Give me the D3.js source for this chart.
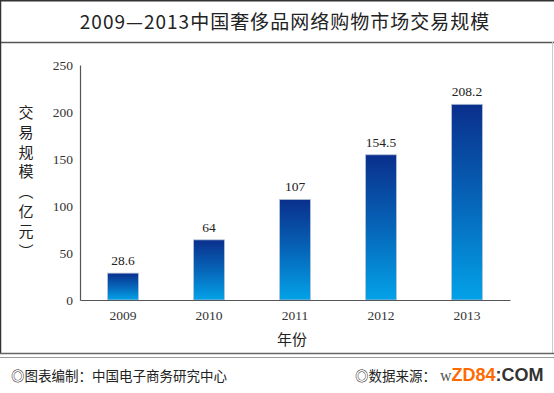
<!DOCTYPE html>
<html>
<head>
<meta charset="utf-8">
<script src="https://cdn.jsdelivr.net/npm/d3@7"></script>
<style>
body{margin:0;background:#fff;}
svg{display:block;}
</style>
</head>
<body>
<svg id="chart"></svg>
<script>
let years=['2009','2010','2011','2012','2013']
let values=[28.6,64,107,154.5,208.2]
let valueLabels=['28.6','64','107','154.5','208.2']
let yTicks=[0,50,100,150,200,250]
let titleText='2009—2013中国奢侈品网络购物市场交易规模'
let yTitleChars=['交','易','规','模','︵','亿','元','︶']
let xTitle='年份'

let width=554
let height=393
let svg=d3.select('#chart').attr('width',width).attr('height',height)
let serif='"Liberation Serif","DejaVu Serif",serif'
let cjk='"Noto Sans CJK SC","Noto Sans",sans-serif'

// frame
svg.append('line').attr('x1',0).attr('x2',width).attr('y1',0.5).attr('y2',0.5).attr('stroke','#333').attr('stroke-width',2)
svg.append('line').attr('x1',0).attr('x2',width).attr('y1',42.5).attr('y2',42.5).attr('stroke','#555').attr('stroke-width',1.5)
svg.append('line').attr('x1',0.5).attr('x2',0.5).attr('y1',0).attr('y2',354).attr('stroke','#333').attr('stroke-width',1.5)
svg.append('line').attr('x1',552.5).attr('x2',552.5).attr('y1',42).attr('y2',354).attr('stroke','#ccc').attr('stroke-width',1)
svg.append('line').attr('x1',0).attr('x2',width).attr('y1',353.5).attr('y2',353.5).attr('stroke','#666').attr('stroke-width',1.5)
svg.append('line').attr('x1',0).attr('x2',width).attr('y1',357.5).attr('y2',357.5).attr('stroke','#999').attr('stroke-width',1)

svg.append('text').attr('x',285).attr('y',29)
  .attr('text-anchor','middle').attr('font-family',cjk).attr('font-size',19)
  .attr('letter-spacing',1).attr('fill','#222').text(titleText)

let xScale=d3.scaleBand().domain(years).range([80,510]).paddingInner(0.64).paddingOuter(0.32)
let yScale=d3.scaleLinear().domain([0,250]).range([300,65])

let defs=svg.append('defs')
let grad=defs.append('linearGradient').attr('id','barGrad').attr('x1',0).attr('x2',0).attr('y1',0).attr('y2',1)
grad.append('stop').attr('offset','0%').attr('stop-color','#0a2f8c')
grad.append('stop').attr('offset','50%').attr('stop-color','#0665b8')
grad.append('stop').attr('offset','100%').attr('stop-color','#03a2e8')

svg.selectAll('rect.bar')
  .data(values)
  .enter()
  .append('rect')
  .attr('class','bar')
  .attr('x',(d,i)=>xScale(years[i]))
  .attr('y',d=>yScale(d))
  .attr('width',xScale.bandwidth())
  .attr('height',d=>yScale(0)-yScale(d))
  .attr('fill','url(#barGrad)')
  .attr('stroke','#b8c4d8').attr('stroke-width',0.8)

svg.selectAll('text.val')
  .data(values)
  .enter()
  .append('text')
  .attr('class','val')
  .attr('x',(d,i)=>xScale(years[i])+xScale.bandwidth()/2)
  .attr('y',d=>yScale(d)-8)
  .attr('text-anchor','middle').attr('font-family',serif).attr('font-size',13.5).attr('fill','#222')
  .text((d,i)=>valueLabels[i])

let yAxis=d3.axisLeft(yScale).tickValues(yTicks).tickSize(0).tickPadding(7)
let gy=svg.append('g').attr('transform','translate(80,0)').call(yAxis)
gy.select('.domain').attr('stroke','#555').attr('stroke-width',1.2)
gy.selectAll('text').attr('font-family',serif).attr('font-size',13.5).attr('fill','#333')

let xAxis=d3.axisBottom(xScale).tickSize(0).tickPadding(10)
let gx=svg.append('g').attr('transform','translate(0,300)').call(xAxis)
gx.select('.domain').attr('stroke','#555').attr('stroke-width',1.2)
gx.selectAll('text').attr('font-family',serif).attr('font-size',13.5).attr('fill','#333')

svg.append('text').attr('x',292).attr('y',345).attr('text-anchor','middle')
  .attr('font-family',cjk).attr('font-size',15).attr('fill','#222').text(xTitle)

svg.append('g').selectAll('text')
  .data(yTitleChars)
  .enter()
  .append('text')
  .attr('x',26)
  .attr('y',(d,i)=>118+i*19.8)
  .attr('text-anchor','middle').attr('font-family',cjk).attr('font-size',15).attr('fill','#222')
  .text(d=>d)

// footer
svg.append('text').attr('x',11).attr('y',381).attr('font-family',cjk).attr('font-size',13.5).attr('fill','#222')
  .text('◎图表编制：中国电子商务研究中心')
let src=svg.append('text').attr('x',355).attr('y',381).attr('font-family',cjk).attr('font-size',13.5).attr('fill','#222')
src.append('tspan').text('◎数据来源：')
src.append('tspan').attr('font-family',serif).attr('font-size',16).attr('fill','#555').attr('dx',4).text('w')
src.append('tspan').attr('font-family','"Liberation Sans",Arial,sans-serif').attr('font-weight','bold').attr('font-size',18).attr('fill','#ff6a00').text('ZD84')
src.append('tspan').attr('font-family','"Liberation Sans",Arial,sans-serif').attr('font-weight','bold').attr('font-size',18).attr('fill','#333').text(':COM')
</script>
</body>
</html>
